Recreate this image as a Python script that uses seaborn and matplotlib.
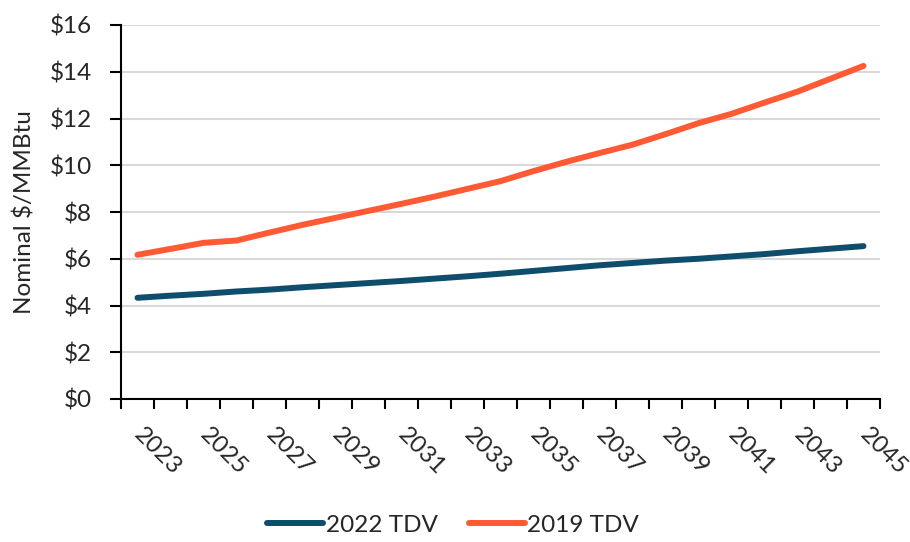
import numpy as np
import pandas as pd
import matplotlib
matplotlib.use("Agg")
import matplotlib.pyplot as plt
import seaborn as sns

# Natural gas price outlook, nominal $/MMBtu
years = list(range(2023, 2046))
tdv_2022 = [4.33, 4.42, 4.50, 4.60, 4.68, 4.78, 4.87, 4.96, 5.05, 5.15, 5.25, 5.36,
            5.48, 5.60, 5.72, 5.82, 5.92, 6.00, 6.10, 6.20, 6.32, 6.43, 6.54]
tdv_2019 = [6.17, 6.42, 6.68, 6.78, 7.12, 7.45, 7.75, 8.05, 8.35, 8.66, 8.99, 9.32,
            9.75, 10.15, 10.52, 10.88, 11.33, 11.80, 12.20, 12.68, 13.15, 13.70, 14.25]
series_names = ["2022 TDV", "2019 TDV"]
series_colors = ["#0E4D6C", "#FF5A34"]
y_ticks = [0, 2, 4, 6, 8, 10, 12, 14, 16]
x_label_years = list(range(2023, 2046, 2))
y_title = "Nominal $/MMBtu"

df = pd.DataFrame({
    "Year": years * 2,
    "Price": tdv_2022 + tdv_2019,
    "Series": [series_names[0]] * len(years) + [series_names[1]] * len(years),
})

sns.set_style("white")
plt.rcParams["font.family"] = ["Lato", "DejaVu Sans"]
text_color = "#262626"
fs = 17.5

fig = plt.figure(figsize=(9.10, 5.42), dpi=100)
ax = fig.add_axes([121 / 910, 1 - 399 / 542, (880 - 121) / 910, (399 - 25) / 542])

sns.lineplot(data=df, x="Year", y="Price", hue="Series", hue_order=series_names,
             palette=series_colors, linewidth=4.3, ax=ax, legend=True,
             solid_capstyle="round")

ax.set_xlim(years[0] - 0.5, years[-1] + 0.5)
ax.set_ylim(y_ticks[0], y_ticks[-1])

# y axis: dollar ticks with light horizontal gridlines
ax.set_yticks(y_ticks)
ax.set_yticklabels([f"${v}" for v in y_ticks], fontsize=fs, color=text_color)
ax.yaxis.grid(True, color="#D9D9D9", linewidth=1.5)
ax.set_axisbelow(True)
ax.tick_params(axis="y", which="major", direction="out", length=8, width=1.5,
               color="black", pad=13, left=True)

# x axis: tick marks between categories, rotated labels every other year
boundaries = np.arange(years[0] - 0.5, years[-1] + 1.0, 1.0)
ax.set_xticks(boundaries)
ax.set_xticklabels([])
ax.tick_params(axis="x", which="major", direction="out", length=7, width=1.5,
               color="black", bottom=True)
ax.set_xticks(x_label_years, minor=True)
ax.set_xticklabels([str(y) for y in x_label_years], minor=True, fontsize=fs,
                   rotation=-45, ha="left", va="center", rotation_mode="anchor",
                   color=text_color)
ax.tick_params(axis="x", which="minor", length=0, pad=23)

ax.set_xlabel("")
ax.set_ylabel(y_title, fontsize=fs, color=text_color, labelpad=10)

for side in ["top", "right"]:
    ax.spines[side].set_visible(False)
for side in ["left", "bottom"]:
    ax.spines[side].set_color("black")
    ax.spines[side].set_linewidth(1.5)

handles, labels = ax.get_legend_handles_labels()
ax.get_legend().remove()
for h in handles:
    h.set_linewidth(4.3)
    h.set_solid_capstyle("round")
fig.legend(handles, labels, loc="center", bbox_to_anchor=(0.498, 0.031),
           ncol=2, frameon=False, fontsize=fs, handlelength=2.3,
           handletextpad=0.1, columnspacing=1.3, labelcolor=text_color)

fig.savefig("out.png", dpi=100)
